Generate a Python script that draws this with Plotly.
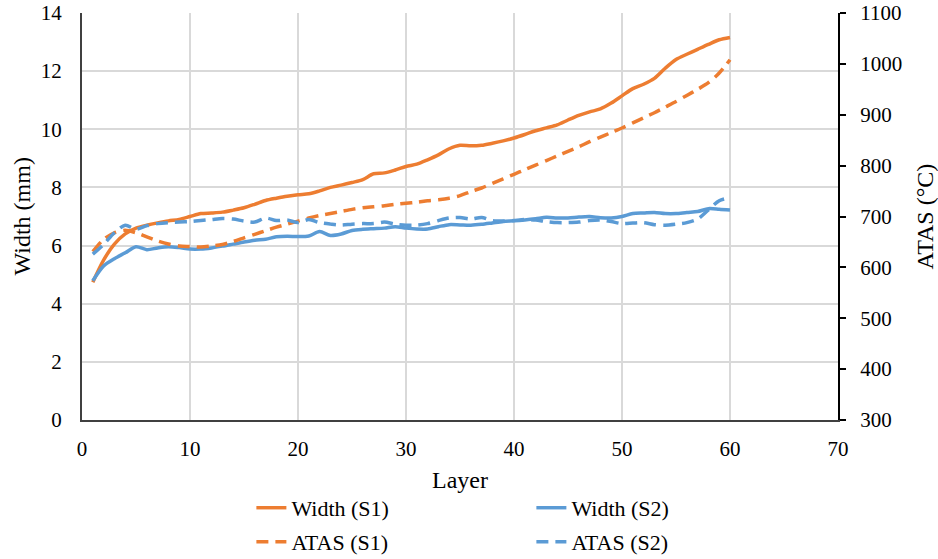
import plotly.graph_objects as go

layers = list(range(1, 61))

width_s1 = [4.74, 5.5, 6.05, 6.4, 6.6, 6.7, 6.78, 6.85, 6.9, 7.0,
            7.1, 7.12, 7.15, 7.22, 7.3, 7.42, 7.55, 7.63, 7.7, 7.75,
            7.78, 7.88, 8.0, 8.08, 8.17, 8.27, 8.47, 8.5, 8.6, 8.72,
            8.8, 8.95, 9.12, 9.33, 9.45, 9.43, 9.45, 9.52, 9.6, 9.7,
            9.82, 9.95, 10.05, 10.15, 10.32, 10.48, 10.6, 10.7, 10.9, 11.15,
            11.4, 11.55, 11.75, 12.1, 12.4, 12.58, 12.75, 12.92, 13.08, 13.16]

width_s2 = [4.79, 5.3, 5.55, 5.75, 5.96, 5.86, 5.92, 5.96, 5.93, 5.88,
            5.88, 5.92, 5.98, 6.05, 6.12, 6.18, 6.22, 6.3, 6.32, 6.31,
            6.33, 6.48, 6.35, 6.4, 6.52, 6.56, 6.58, 6.6, 6.65, 6.6,
            6.57, 6.57, 6.65, 6.72, 6.71, 6.7, 6.73, 6.78, 6.83, 6.85,
            6.88, 6.92, 6.97, 6.95, 6.95, 6.98, 7.0, 6.96, 6.95, 7.0,
            7.1, 7.12, 7.14, 7.1, 7.1, 7.14, 7.17, 7.27, 7.25, 7.22]

atas_s1 = [631, 655, 668, 673, 668, 660, 652, 646, 642, 641,
           640, 642, 645, 651, 658, 665, 672, 679, 685, 691,
           697, 702, 706, 710, 714, 717, 719, 721, 724, 726,
           728, 731, 733, 736, 741, 749, 756, 765, 774, 783,
           792, 801, 810, 819, 828, 837, 847, 856, 865, 874,
           884, 894, 904, 915, 926, 938, 950, 963, 982, 1008]

atas_s2 = [626, 645, 668, 683, 675, 682, 686, 688, 689, 690,
           692, 694, 696, 695, 691, 689, 697, 692, 693, 688,
           694, 688, 685, 683, 685, 686, 686, 689, 685, 683,
           683, 686, 692, 697, 698, 695, 698, 692, 691, 692,
           694, 693, 690, 688, 688, 689, 692, 693, 690, 686,
           687, 688, 684, 683, 685, 688, 695, 713, 731, 737]

x_title = "Layer"
y_title = "Width (mm)"
y2_title = "ATAS (°C)"

ORANGE = "#ED7D31"
BLUE = "#5B9BD5"
FONT = "'Liberation Serif', serif"
LW = 3.5
DASH = "12px,7px"

fig = go.Figure()
fig.add_trace(go.Scatter(x=layers, y=width_s1, name="Width (S1)", mode="lines", legend="legend",
                         line=dict(color=ORANGE, width=LW, shape="spline", smoothing=0.8)))
fig.add_trace(go.Scatter(x=layers, y=width_s2, name="Width (S2)", mode="lines", legend="legend",
                         line=dict(color=BLUE, width=LW, shape="spline", smoothing=0.8)))
fig.add_trace(go.Scatter(x=layers, y=atas_s1, name="ATAS (S1)", mode="lines", yaxis="y2", legend="legend2",
                         line=dict(color=ORANGE, width=LW, dash=DASH, shape="spline", smoothing=0.8)))
fig.add_trace(go.Scatter(x=layers, y=atas_s2, name="ATAS (S2)", mode="lines", yaxis="y2", legend="legend2",
                         line=dict(color=BLUE, width=LW, dash=DASH, shape="spline", smoothing=0.8)))

legend_common = dict(orientation="h", xref="container", yref="container", xanchor="left", yanchor="top",
                     entrywidth=235, entrywidthmode="pixels", font=dict(size=22, color="#000000"),
                     bgcolor="rgba(0,0,0,0)", borderwidth=0)

title_font = dict(family=FONT, size=24, color="#000000")

fig.update_layout(
    width=938, height=559,
    margin=dict(l=82, r=100, t=13, b=139),
    paper_bgcolor="white", plot_bgcolor="white",
    font=dict(family=FONT, size=21, color="#000000"),
    xaxis=dict(range=[0, 70], dtick=10, showgrid=True, gridcolor="#D9D9D9", gridwidth=1.5,
               showline=True, linecolor="#404040", linewidth=2, zeroline=False,
               ticks="", ticklabelstandoff=9, automargin=False, ticklabeloverflow="allow"),
    yaxis=dict(range=[0, 14], dtick=2, showgrid=True, gridcolor="#D9D9D9", gridwidth=1.5,
               showline=True, linecolor="#404040", linewidth=2, zeroline=False,
               ticks="", ticklabelstandoff=14, automargin=False, ticklabeloverflow="allow"),
    yaxis2=dict(range=[300, 1100], dtick=100, overlaying="y", side="right", showgrid=False,
                showline=True, linecolor="#000000", linewidth=2, zeroline=False,
                ticks="outside", ticklen=6, tickwidth=2, tickcolor="#000000", ticklabelstandoff=10,
                automargin=False, ticklabeloverflow="allow"),
    legend=dict(x=0.268, y=0.129, **legend_common),
    legend2=dict(x=0.268, y=0.068, **legend_common),
    showlegend=True,
    annotations=[
        dict(text=x_title, xref="paper", yref="paper", x=0.5, y=-0.147,
             xanchor="center", yanchor="middle", showarrow=False, font=title_font),
        dict(text=y_title, xref="paper", yref="paper", x=-0.0794, y=0.5, textangle=-90,
             xanchor="center", yanchor="middle", showarrow=False, font=title_font),
        dict(text=y2_title, xref="paper", yref="paper", x=1.115, y=0.5, textangle=-90,
             xanchor="center", yanchor="middle", showarrow=False, font=title_font),
    ],
)

fig.write_html("out.html", config={"displayModeBar": False},
               post_script="document.body.style.margin='0px';")
